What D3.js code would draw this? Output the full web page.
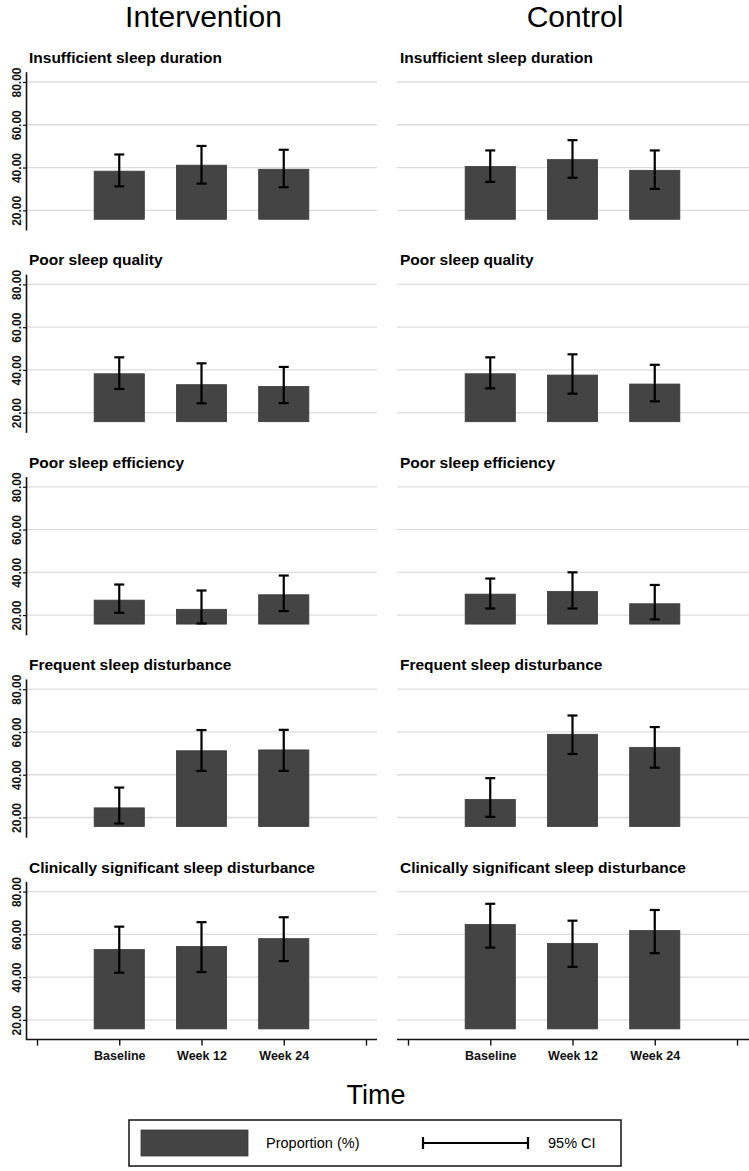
<!DOCTYPE html>
<html>
<head>
<meta charset="utf-8">
<script src="https://cdn.jsdelivr.net/npm/d3@7"></script>
<style>
	body { margin: 0; background: #fff; }
	svg { display: block; font-family: "Liberation Sans", Arial, Helvetica, sans-serif; }
</style>
</head>
<body>
<div id="chart"></div>
<script>
var categories = ['Baseline', 'Week 12', 'Week 24'];
var outcomes = [
	'Insufficient sleep duration',
	'Poor sleep quality',
	'Poor sleep efficiency',
	'Frequent sleep disturbance',
	'Clinically significant sleep disturbance'
];
var groups = ['Intervention', 'Control'];
var yTicks = [20, 40, 60, 80];

// proportion (%) and 95% CI, one row per outcome, one value per time point
var interventionProp = [[38.3, 41.1, 39.2], [38.2, 33.1, 32.3], [27.0, 22.7, 29.5], [24.5, 51.2, 51.6], [52.9, 54.3, 58.0]];
var interventionLow  = [[31.2, 32.5, 30.8], [31.1, 24.4, 24.5], [21.1, 16.1, 21.9], [17.2, 41.8, 41.8], [42.1, 42.4, 47.5]];
var interventionHigh = [[46.1, 50.1, 48.3], [45.9, 43.1, 41.4], [34.3, 31.5, 38.5], [34.0, 60.9, 61.0], [63.6, 65.7, 68.0]];
var controlProp = [[40.5, 43.7, 38.7], [38.2, 37.6, 33.4], [29.8, 31.0, 25.3], [28.4, 58.9, 52.8], [64.6, 55.7, 61.8]];
var controlLow  = [[33.3, 35.2, 30.0], [31.4, 28.9, 25.3], [23.1, 23.1, 18.0], [20.3, 49.7, 43.3], [53.8, 44.8, 51.2]];
var controlHigh = [[48.0, 52.8, 48.0], [45.9, 47.3, 42.4], [37.1, 40.0, 34.1], [38.4, 67.7, 62.3], [74.3, 66.4, 71.4]];

var cfg = {
	w: 749, h: 1171,
	rowTop: 82, rowPitch: 202.4,
	gridSpan: 128.3,
	yMin: 10.8, yMax: 84.8, barBase: 15.8,
	barW: 0.61, cap: 5,
	barColor: '#444444', gridColor: '#dcdcdc'
};

var cols = [
	{ axisX: 26, right: 377, x0: 37, x4: 366, yAxis: true, prop: interventionProp, low: interventionLow, high: interventionHigh },
	{ axisX: 397, right: 749, x0: 408, x4: 737, yAxis: false, prop: controlProp, low: controlLow, high: controlHigh }
];

var svg = d3.select('#chart').append('svg')
	.attr('width', cfg.w)
	.attr('height', cfg.h);

svg.append('rect').attr('width', cfg.w).attr('height', cfg.h).attr('fill', '#fff');

cols.forEach(function(col, ci) {
	// x positions: 0 and 4 are empty slots, categories sit at 1..3
	var x = d3.scaleLinear().domain([0, 4]).range([col.x0, col.x4]);
	var bw = x(cfg.barW) - x(0);

	svg.append('text')
		.attr('x', (col.axisX + col.right) / 2 + 2)
		.attr('y', 27)
		.attr('text-anchor', 'middle')
		.style('font-size', '30px')
		.text(groups[ci]);

	outcomes.forEach(function(title, ri) {
		var top = cfg.rowTop + ri * cfg.rowPitch;
		var k = cfg.gridSpan / 60;
		var y = d3.scaleLinear()
			.domain([cfg.yMin, cfg.yMax])
			.range([top + (80 - cfg.yMin) * k, top - (cfg.yMax - 80) * k]);
		var g = svg.append('g');

		g.append('text')
			.attr('x', col.axisX + 3)
			.attr('y', top - 19)
			.style('font-size', '15.5px')
			.style('font-weight', 'bold')
			.text(title);

		// gridlines
		g.selectAll('.grid')
			.data(yTicks)
			.enter()
			.append('line')
			.attr('x1', col.axisX)
			.attr('x2', col.right)
			.attr('y1', function(d) { return y(d); })
			.attr('y2', function(d) { return y(d); })
			.attr('stroke', cfg.gridColor)
			.attr('stroke-width', 1.3);

		if (col.yAxis) {
			var yAxis = d3.axisLeft(y)
				.tickValues(yTicks)
				.tickFormat(d3.format('.2f'))
				.tickSizeInner(3)
				.tickSizeOuter(0);
			var ga = g.append('g')
				.attr('transform', 'translate(' + col.axisX + ',0)')
				.call(yAxis);
			ga.select('.domain').attr('stroke', '#111').attr('stroke-width', 1.6);
			ga.selectAll('.tick line').attr('stroke', '#111').attr('stroke-width', 1.2);
			ga.selectAll('.tick text')
				.attr('transform', 'rotate(-90)')
				.attr('x', 0)
				.attr('y', -5)
				.attr('dy', 0)
				.style('text-anchor', 'middle')
				.style('font-family', '"Liberation Sans", Arial, sans-serif')
				.style('font-size', '12px')
				.style('font-weight', 'bold')
				.style('fill', '#111');
		}

		// bars
		g.selectAll('.bar')
			.data(col.prop[ri])
			.enter()
			.append('rect')
			.attr('x', function(d, i) { return x(i + 1) - bw / 2; })
			.attr('width', bw)
			.attr('y', function(d) { return y(d); })
			.attr('height', function(d) { return y(cfg.barBase) - y(d); })
			.attr('fill', cfg.barColor)
			.attr('stroke', '#3a3a3a')
			.attr('stroke-width', 0.8);

		// 95% CI
		var ci95 = col.low[ri].map(function(lo, i) { return { i: i, lo: lo, hi: col.high[ri][i] }; });
		var eb = g.selectAll('.ci')
			.data(ci95)
			.enter()
			.append('g')
			.attr('stroke', '#000')
			.attr('stroke-width', 2.2);
		eb.append('line')
			.attr('x1', function(d) { return x(d.i + 1); })
			.attr('x2', function(d) { return x(d.i + 1); })
			.attr('y1', function(d) { return y(d.lo); })
			.attr('y2', function(d) { return y(d.hi); });
		eb.append('line')
			.attr('x1', function(d) { return x(d.i + 1) - cfg.cap; })
			.attr('x2', function(d) { return x(d.i + 1) + cfg.cap; })
			.attr('y1', function(d) { return y(d.hi); })
			.attr('y2', function(d) { return y(d.hi); });
		eb.append('line')
			.attr('x1', function(d) { return x(d.i + 1) - cfg.cap; })
			.attr('x2', function(d) { return x(d.i + 1) + cfg.cap; })
			.attr('y1', function(d) { return y(d.lo); })
			.attr('y2', function(d) { return y(d.lo); });

		// x axis only under the last row
		if (ri === outcomes.length - 1) {
			var xAxis = d3.axisBottom(x)
				.tickValues([0, 1, 2, 3, 4])
				.tickFormat(function(d) { return categories[d - 1] || ''; })
				.tickSizeInner(6)
				.tickSizeOuter(0);
			var gx = g.append('g')
				.attr('transform', 'translate(0,' + y(cfg.yMin) + ')')
				.call(xAxis);
			gx.select('.domain').attr('d', 'M' + col.axisX + ',0H' + col.right)
				.attr('stroke', '#111').attr('stroke-width', 1.6);
			gx.selectAll('.tick line').attr('stroke', '#111').attr('stroke-width', 1.4);
			gx.selectAll('.tick text')
				.attr('y', 9)
				.attr('dy', '0.9em')
				.style('font-family', '"Liberation Sans", Arial, sans-serif')
				.style('font-size', '12.5px')
				.style('font-weight', 'bold')
				.style('fill', '#111');
		}
	});
});

svg.append('text')
	.attr('x', 376)
	.attr('y', 1104)
	.attr('text-anchor', 'middle')
	.style('font-size', '27px')
	.text('Time');

// legend
var lg = svg.append('g');
lg.append('rect')
	.attr('x', 129).attr('y', 1120).attr('width', 492).attr('height', 46)
	.attr('fill', '#fff').attr('stroke', '#111').attr('stroke-width', 1.5);
lg.append('rect')
	.attr('x', 141).attr('y', 1130).attr('width', 107).attr('height', 26)
	.attr('fill', cfg.barColor).attr('stroke', '#3a3a3a').attr('stroke-width', 0.8);
lg.append('text')
	.attr('x', 266).attr('y', 1148)
	.style('font-size', '14.5px')
	.text('Proportion (%)');
var lgCi = lg.append('g').attr('stroke', '#000').attr('stroke-width', 2.2);
lgCi.append('line').attr('x1', 423).attr('x2', 528).attr('y1', 1143).attr('y2', 1143);
lgCi.append('line').attr('x1', 423).attr('x2', 423).attr('y1', 1137).attr('y2', 1149);
lgCi.append('line').attr('x1', 528).attr('x2', 528).attr('y1', 1137).attr('y2', 1149);
lg.append('text')
	.attr('x', 548).attr('y', 1148)
	.style('font-size', '14.5px')
	.text('95% CI');
</script>
</body>
</html>
